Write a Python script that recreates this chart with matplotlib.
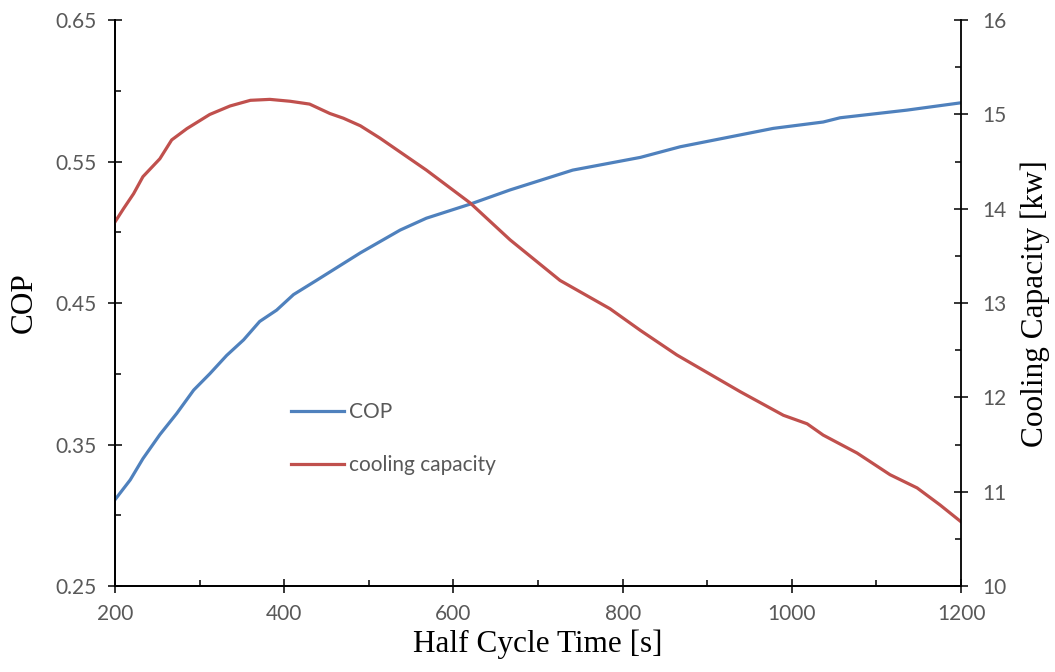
import matplotlib
matplotlib.use('Agg')
import matplotlib.pyplot as plt
from matplotlib.ticker import MultipleLocator, FormatStrFormatter

# half cycle time [s] vs COP
cop_time = [200, 218, 233, 253, 273, 293, 312, 332, 352, 371, 391, 411, 438,
            470, 490, 537, 568, 620, 667, 741, 821, 868, 978, 1037, 1057,
            1136, 1200]
cop = [0.311, 0.325, 0.340, 0.357, 0.372, 0.3885, 0.400, 0.413, 0.424,
       0.437, 0.445, 0.456, 0.466, 0.478, 0.4855, 0.5016, 0.510, 0.520,
       0.530, 0.544, 0.553, 0.5605, 0.5735, 0.578, 0.581, 0.5864, 0.5916]

# half cycle time [s] vs cooling capacity [kw]
cap_time = [200, 210, 222, 233, 253, 267, 285, 312, 336, 360, 383, 407, 430,
            454, 470, 490, 513, 568, 620, 667, 726, 785, 821, 864, 939, 990,
            1018, 1037, 1077, 1116, 1148, 1175, 1200]
capacity = [13.86, 14.00, 14.16, 14.34, 14.53, 14.73, 14.85, 15.00, 15.09,
            15.15, 15.16, 15.14, 15.11, 15.01, 14.96, 14.88, 14.75, 14.41,
            14.06, 13.67, 13.24, 12.94, 12.71, 12.45, 12.06, 11.81, 11.72,
            11.60, 11.41, 11.18, 11.04, 10.86, 10.68]

BLUE = '#4F81BD'
RED = '#C0504D'
TICK_COLOR = '#595959'


def style_axis(ax):
    ax.tick_params(which='major', direction='inout', length=10, width=1.1,
                   color='black', labelcolor=TICK_COLOR, labelsize=15)
    ax.tick_params(which='minor', direction='in', length=4.5, width=1.1,
                   color='black')
    for label in ax.get_xticklabels() + ax.get_yticklabels():
        label.set_family('Lato')


def plot_cop_capacity(name='out'):
    fig = plt.figure(figsize=(10.55, 6.72), dpi=100)
    ax = fig.add_axes([0.109, 0.128, 0.802, 0.842])
    ax2 = ax.twinx()

    l1, = ax.plot(cop_time, cop, color=BLUE, lw=2.3, label='COP',
                  solid_joinstyle='round')
    l2, = ax2.plot(cap_time, capacity, color=RED, lw=2.3,
                   label='cooling capacity', solid_joinstyle='round')

    ax.set_xlim(200, 1200)
    ax.set_ylim(0.25, 0.65)
    ax2.set_ylim(10, 16)

    ax.xaxis.set_major_locator(MultipleLocator(200))
    ax.xaxis.set_minor_locator(MultipleLocator(100))
    ax.yaxis.set_major_locator(MultipleLocator(0.1, offset=0.05))
    ax.yaxis.set_minor_locator(MultipleLocator(0.05))
    ax.yaxis.set_major_formatter(FormatStrFormatter('%.2f'))
    ax2.yaxis.set_major_locator(MultipleLocator(1))
    ax2.yaxis.set_minor_locator(MultipleLocator(0.5))

    for a in (ax, ax2):
        a.spines['top'].set_visible(False)
        for s in a.spines.values():
            s.set_linewidth(1.3)
    ax.spines['right'].set_visible(False)
    style_axis(ax)
    style_axis(ax2)
    ax.tick_params(axis='y', pad=8)
    ax.tick_params(axis='x', pad=8)
    ax2.tick_params(axis='y', pad=10)

    ax.set_xlabel('Half Cycle Time [s]', family='Liberation Serif',
                  fontsize=22.5, labelpad=4)
    ax.set_ylabel('COP', family='Liberation Serif', fontsize=22.5,
                  labelpad=12)
    ax2.set_ylabel('Cooling Capacity [kw]', family='Liberation Serif',
                   fontsize=22.5, labelpad=10)

    leg = ax2.legend(handles=[l1, l2], loc='center left',
                     bbox_to_anchor=(0.2655, 0.3475),
                     bbox_transform=fig.transFigure, frameon=False,
                     borderpad=0, handlelength=2.55, handletextpad=0.25,
                     labelspacing=1.6, prop={'family': 'Lato', 'size': 15})
    for t in leg.get_texts():
        t.set_color(TICK_COLOR)

    fig.savefig('{}.png'.format(name), dpi=100)
    plt.close(fig)


if __name__ == '__main__':
    plot_cop_capacity()
